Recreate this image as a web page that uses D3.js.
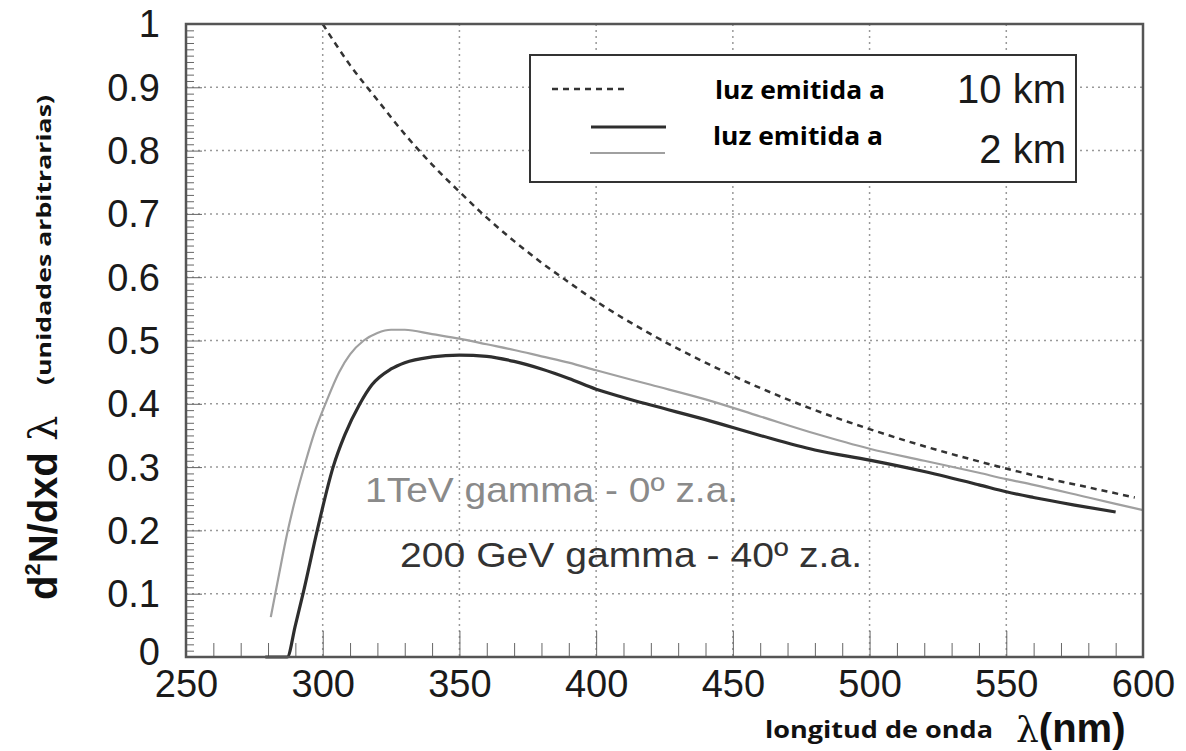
<!DOCTYPE html>
<html>
<head>
<meta charset="utf-8">
<script src="https://cdn.jsdelivr.net/npm/d3@7"></script>
<style>
  body { margin: 0; background: #fff; }
  svg { display: block; }
</style>
</head>
<body>
<div id="chart"></div>
<script>
// wavelength (nm) / intensity pairs
const lambda10km = [300, 310, 320, 330, 340, 350, 360, 370, 380, 390, 400, 420, 440, 460, 480, 500, 520, 540, 560, 580, 597];
const value10km  = [1.0, 0.935, 0.88, 0.826, 0.778, 0.735, 0.694, 0.657, 0.623, 0.592, 0.562, 0.51, 0.465, 0.425, 0.39, 0.36, 0.333, 0.309, 0.287, 0.268, 0.252];

const lambdaTeV = [281, 284, 287, 290, 293.5, 297, 301, 306, 310, 315, 320, 325, 330, 340, 350, 360, 370, 380, 390, 400, 420, 440, 460, 480, 500, 520, 540, 550, 560, 580, 600];
const valueTeV  = [0.063, 0.13, 0.195, 0.25, 0.305, 0.355, 0.4, 0.45, 0.478, 0.5, 0.512, 0.517, 0.517, 0.51, 0.503, 0.494, 0.485, 0.475, 0.465, 0.453, 0.43, 0.407, 0.38, 0.353, 0.329, 0.31, 0.291, 0.281, 0.272, 0.252, 0.232];

const lambdaGeV = [279, 287, 290, 292.8, 298, 303.8, 308, 313.6, 318, 325, 330, 340, 350, 360, 370, 380, 390, 400, 410, 420, 440, 460, 480, 500, 520, 540, 550, 560, 575, 590];
const valueGeV  = [0, 0, 0.05, 0.1, 0.2, 0.3, 0.35, 0.4, 0.43, 0.455, 0.465, 0.474, 0.477, 0.475, 0.467, 0.455, 0.44, 0.423, 0.41, 0.398, 0.375, 0.35, 0.327, 0.311, 0.293, 0.272, 0.261, 0.252, 0.24, 0.229];

const xTicks = [250, 300, 350, 400, 450, 500, 550, 600];
const yTicks = [0, 0.1, 0.2, 0.3, 0.4, 0.5, 0.6, 0.7, 0.8, 0.9, 1];
const yTickLabels = ["0", "0.1", "0.2", "0.3", "0.4", "0.5", "0.6", "0.7", "0.8", "0.9", "1"];

const legendLabels = ["luz emitida a", "luz emitida a"];
const legendDist = ["10 km", "2 km"];
const notes = ["1TeV gamma - 0º z.a.", "200 GeV gamma - 40º z.a."];

const W = 1186, H = 751;
const margin = {top: 24, right: 43, bottom: 94, left: 186};
const width = W - margin.left - margin.right;
const height = H - margin.top - margin.bottom;

const svg = d3.select("#chart").append("svg")
    .attr("width", W)
    .attr("height", H);

const g = svg.append("g")
    .attr("transform", `translate(${margin.left},${margin.top})`);

const x = d3.scaleLinear().domain([250, 600]).range([0, width]);
const y = d3.scaleLinear().domain([0, 1]).range([height, 0]);

// dotted grid
g.append("g")
    .selectAll("line")
    .data(xTicks.slice(1, -1))
    .enter().append("line")
    .attr("x1", d => x(d)).attr("x2", d => x(d))
    .attr("y1", 0).attr("y2", height)
    .attr("stroke", "#999").attr("stroke-width", 1.5)
    .attr("stroke-dasharray", "2,4");

g.append("g")
    .selectAll("line")
    .data(yTicks.slice(1, -1))
    .enter().append("line")
    .attr("x1", 0).attr("x2", width)
    .attr("y1", d => y(d)).attr("y2", d => y(d))
    .attr("stroke", "#999").attr("stroke-width", 1.5)
    .attr("stroke-dasharray", "2,4");

// inner tick combs (ROOT style)
const minorY = d3.range(0, 101).map(i => i / 100);
g.append("g")
    .call(d3.axisLeft(y).tickValues(minorY).tickSize(-8).tickFormat(""))
    .call(a => a.select(".domain").remove())
    .selectAll("line").attr("stroke", "#666")
    .attr("x2", (d, i) => i % 10 === 0 ? 16 : 8);

const minorX = d3.range(250, 601, 10);
g.append("g")
    .attr("transform", `translate(0,${height})`)
    .call(d3.axisBottom(x).tickValues(minorX).tickSize(-14).tickFormat(""))
    .call(a => a.select(".domain").remove())
    .selectAll("line").attr("stroke", "#666")
    .attr("y2", (d, i) => i % 5 === 0 ? -26 : -14);

// tick labels
const yAxis = g.append("g")
    .call(d3.axisLeft(y).tickValues(yTicks).tickSize(0).tickPadding(26)
      .tickFormat((d, i) => yTickLabels[i]));
yAxis.select(".domain").remove();
yAxis.selectAll("text")
    .attr("font-family", "'Liberation Sans', Arial, sans-serif")
    .attr("font-size", 38)
    .attr("fill", "#1a1a1a")
    .attr("dy", d => d === 0 ? "0.2em" : "0.34em");

const xAxis = g.append("g")
    .attr("transform", `translate(0,${height})`)
    .call(d3.axisBottom(x).tickValues(xTicks).tickSize(0).tickPadding(13));
xAxis.select(".domain").remove();
xAxis.selectAll("text")
    .attr("font-family", "'Liberation Sans', Arial, sans-serif")
    .attr("font-size", 38)
    .attr("fill", "#1a1a1a");

// curves
const line = d3.line()
    .x(d => x(d[0]))
    .y(d => y(d[1]))
    .curve(d3.curveMonotoneX);

const zip = (a, b) => a.map((v, i) => [v, b[i]]);

g.append("path")
    .datum(zip(lambdaTeV, valueTeV))
    .attr("d", line)
    .attr("fill", "none")
    .attr("stroke", "#a0a0a0")
    .attr("stroke-width", 2.2);

g.append("path")
    .datum(zip(lambdaGeV, valueGeV))
    .attr("d", line)
    .attr("fill", "none")
    .attr("stroke", "#2e2e2e")
    .attr("stroke-width", 3.2);

g.append("path")
    .datum(zip(lambda10km, value10km))
    .attr("d", line)
    .attr("fill", "none")
    .attr("stroke", "#333")
    .attr("stroke-width", 2.5)
    .attr("stroke-dasharray", "6,5");

// frame
g.append("rect")
    .attr("x", 0).attr("y", 0)
    .attr("width", width).attr("height", height)
    .attr("fill", "none")
    .attr("stroke", "#555")
    .attr("stroke-width", 2.5);

// annotations inside the plot
g.append("text")
    .attr("x", x(315.5)).attr("y", y(0.245))
    .attr("font-family", "'Liberation Sans', Arial, sans-serif")
    .attr("font-size", 35)
    .attr("fill", "#8a8a8a")
    .attr("textLength", 373).attr("lengthAdjust", "spacingAndGlyphs")
    .text(notes[0]);

g.append("text")
    .attr("x", x(328.3)).attr("y", y(0.142))
    .attr("font-family", "'Liberation Sans', Arial, sans-serif")
    .attr("font-size", 35)
    .attr("fill", "#333")
    .attr("textLength", 462).attr("lengthAdjust", "spacingAndGlyphs")
    .text(notes[1]);

// legend
const leg = svg.append("g");
leg.append("rect")
    .attr("x", 530).attr("y", 55)
    .attr("width", 546).attr("height", 127)
    .attr("fill", "#fff")
    .attr("stroke", "#333")
    .attr("stroke-width", 2);

leg.append("line")
    .attr("x1", 552).attr("x2", 625).attr("y1", 89).attr("y2", 89)
    .attr("stroke", "#333").attr("stroke-width", 2.5)
    .attr("stroke-dasharray", "6,5");
leg.append("line")
    .attr("x1", 591).attr("x2", 666).attr("y1", 127).attr("y2", 127)
    .attr("stroke", "#2e2e2e").attr("stroke-width", 3.2);
leg.append("line")
    .attr("x1", 590).attr("x2", 665).attr("y1", 153).attr("y2", 153)
    .attr("stroke", "#a0a0a0").attr("stroke-width", 2.2);

leg.selectAll("text.lab")
    .data(legendLabels)
    .enter().append("text")
    .attr("class", "lab")
    .attr("x", (d, i) => i === 0 ? 715 : 713)
    .attr("y", (d, i) => i === 0 ? 99 : 145)
    .attr("font-family", "'Open Sans', sans-serif")
    .attr("font-weight", "bold")
    .attr("font-size", 25)
    .attr("fill", "#000")
    .attr("textLength", 170).attr("lengthAdjust", "spacingAndGlyphs")
    .text(d => d);

leg.selectAll("text.dist")
    .data(legendDist)
    .enter().append("text")
    .attr("class", "dist")
    .attr("x", 1066)
    .attr("y", (d, i) => i === 0 ? 103 : 163)
    .attr("text-anchor", "end")
    .attr("font-family", "'Liberation Sans', Arial, sans-serif")
    .attr("font-size", 40)
    .attr("fill", "#1a1a1a")
    .text(d => d);

// axis titles
const xt = svg.append("g");
xt.append("text")
    .attr("x", 765).attr("y", 738)
    .attr("font-family", "'Open Sans', sans-serif")
    .attr("font-weight", "bold")
    .attr("font-size", 23)
    .attr("fill", "#111")
    .attr("textLength", 228).attr("lengthAdjust", "spacingAndGlyphs")
    .text("longitud de onda");
const xl = xt.append("text")
    .attr("x", 1016).attr("y", 742)
    .attr("fill", "#111");
xl.append("tspan")
    .attr("font-family", "'DejaVu Serif', serif")
    .attr("font-size", 36)
    .text("λ");
xl.append("tspan")
    .attr("font-family", "'Liberation Sans', Arial, sans-serif")
    .attr("font-weight", "bold")
    .attr("font-size", 40)
    .text("(nm)");

const yt = svg.append("g");
const yl = yt.append("text")
    .attr("transform", "translate(57,600) rotate(-90)")
    .attr("fill", "#111")
    .attr("font-family", "'Liberation Sans', Arial, sans-serif")
    .attr("font-weight", "bold")
    .attr("font-size", 40);
yl.append("tspan").text("d");
yl.append("tspan").attr("font-size", 22).attr("dy", -17).text("2");
yl.append("tspan").attr("dy", 17).text("N/dxd ");
yl.append("tspan")
    .attr("font-family", "'DejaVu Serif', serif")
    .attr("font-weight", "normal")
    .text("λ");

yt.append("text")
    .attr("transform", "translate(51,385) rotate(-90)")
    .attr("font-family", "'Open Sans', sans-serif")
    .attr("font-weight", "bold")
    .attr("font-size", 19)
    .attr("fill", "#111")
    .attr("textLength", 290).attr("lengthAdjust", "spacingAndGlyphs")
    .text("(unidades arbitrarias)");
</script>
</body>
</html>
